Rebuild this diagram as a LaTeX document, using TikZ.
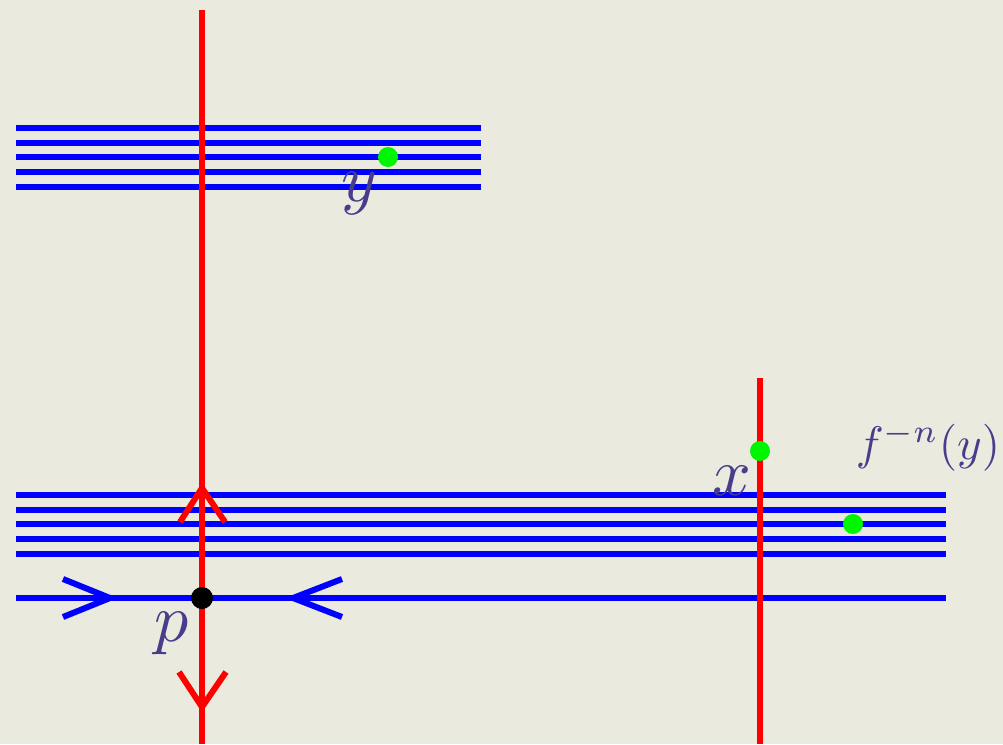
\documentclass[tikz,border=0pt]{standalone}
\usepackage{tikz}

\definecolor{bgcol}{RGB}{234,234,222}
\definecolor{labcol}{RGB}{72,61,139}
\definecolor{dotgreen}{RGB}{0,245,0}

\tikzset{
  bline/.style={draw=blue, line width=6pt},
  rline/.style={draw=red, line width=6pt},
  gdot/.style={circle, fill=dotgreen, minimum size=20pt, inner sep=0pt},
  lab/.style={text=labcol, inner sep=0pt, scale=6.8},
}

\begin{document}
\begin{tikzpicture}[x=1pt, y=-1pt]

        \fill[bgcol] (0,0) rectangle (1003,744);
        \useasboundingbox (0,0) rectangle (1003,744);

        % Stable leaves (blue)

        \foreach \y in {128,142.7,157.3,172,186.7} {
            \draw[bline] (16,\y) -- (481,\y);
        }

        \foreach \y in {495,509.7,524.3,539,553.7} {
            \foreach \a/\b in {16/390, 390/668, 668/946} {
                \draw[bline] (\a,\y) -- (\b,\y);
            }
        }

        \coordinate (sl) at (16, 598);
        \coordinate (sm1) at (390, 598);
        \coordinate (sm2) at (668, 598);
        \coordinate (sr) at (946, 598);

        \draw[bline] (sl) -- (sm1);
        \draw[bline] (sm1) -- (sm2);
        \draw[bline] (sm2) -- (sr);

        % Unstable leaves (red)

        \coordinate (ut) at (202, 10);
        \coordinate (ub) at (202, 744);
        \draw[rline] (ut) -- (ub);

        \coordinate (xt) at (760, 378);
        \coordinate (xb) at (760, 744);
        \draw[rline] (xt) -- (xb);

        % Arrow heads

        \coordinate (upa) at (202, 488);
        \coordinate (downa) at (202, 707);
        \coordinate (lefta) at (110, 598);
        \coordinate (righta) at (293, 598);

        \draw[rline] (upa) ++(-22, 34) -- (upa) -- ++(23, 34);

        \draw[rline] (downa) ++(-23, -35) -- (downa) -- ++(24, -35);

        \draw[bline] (lefta) ++(-47, -19) -- (lefta) -- ++(-47, 19);

        \draw[bline] (righta) ++(49, -19) -- (righta) -- ++(49, 19);

        % Points

        \node (p) at (202, 598) [circle, fill=black, minimum size=22pt, inner sep=0pt] {};

        \node (y) at (388, 157) [gdot] {};

        \node (x) at (760, 451) [gdot] {};

        \node (fny) at (853, 524) [gdot] {};

        % Labels

        \node (plab) at (172, 633) [lab] {$p$};

        \node (ylab) at (359, 193) [lab] {$y$};

        \node (xlab) at (732, 481) [lab] {$x$};

        \node (fnylab) at (928, 447) [lab, scale=4.7/6.8] {$f^{-n}(y)$};

\end{tikzpicture}
\end{document}
